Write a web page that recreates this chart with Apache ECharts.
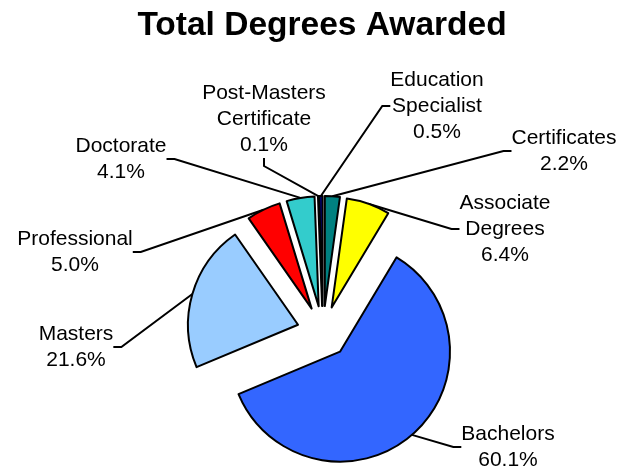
<!DOCTYPE html>
<html>
<head>
<meta charset="utf-8">
<script src="https://cdn.jsdelivr.net/npm/echarts@6/dist/echarts.min.js"></script>
<style>
  html, body { margin: 0; padding: 0; background: #fff; }
  #chart { width: 623px; height: 472px; }
</style>
</head>
<body>
<div id="chart"></div>
<script>
// slice order, clockwise from 12 o'clock
var categories = ["Certificates", "Associate\nDegrees", "Bachelors", "Masters",
  "Professional", "Doctorate", "Post-Masters\nCertificate", "Education\nSpecialist"];
var shares = [2.2, 6.4, 60.1, 21.6, 5.0, 4.1, 0.1, 0.5];
var colors = ["#008080", "#ffff00", "#3366ff", "#99ccff",
  "#ff0000", "#33cccc", "#ffffff", "#000080"];
// where each label block sits (centre of text)
var labelPos = [[564, 151], [505, 229], [508, 447], [76, 347],
  [75, 252], [121, 159], [264, 119], [437, 106]];

var pieCenter = [323, 332];
var pieRadius = 110;
var explode = 26;

var chart = echarts.init(document.getElementById("chart"), null, { renderer: "canvas" });

var textFont = {
  fontFamily: "Liberation Sans, Arial",
  fontSize: 21,
  lineHeight: 26,
  color: "#000"
};

chart.setOption({
  animation: false,
  title: {
    text: "Total Degrees Awarded",
    left: 317,
    textAlign: "center",
    top: 4,
    textStyle: {
      fontFamily: "Liberation Sans, Arial",
      fontSize: 33.5,
      fontWeight: "bold",
      color: "#000"
    }
  },
  series: [
    // the exploded slices
    {
      type: "pie",
      center: pieCenter,
      radius: pieRadius,
      startAngle: 90,
      clockwise: true,
      selectedMode: "multiple",
      selectedOffset: explode,
      silent: true,
      itemStyle: { borderColor: "#000", borderWidth: 2 },
      select: { itemStyle: { borderColor: "#000", borderWidth: 2 } },
      emphasis: { disabled: true },
      label: { show: false },
      labelLine: { show: false },
      data: categories.map(function (name, i) {
        return { name: name, value: shares[i], selected: true, itemStyle: { color: colors[i] } };
      })
    },
    // invisible ring reaching the exploded outer edge, only carries the labels
    {
      type: "pie",
      center: pieCenter,
      radius: pieRadius + explode,
      startAngle: 90,
      clockwise: true,
      silent: true,
      avoidLabelOverlap: false,
      itemStyle: { color: "transparent", borderWidth: 0 },
      emphasis: { disabled: true },
      label: Object.assign({
        align: "center",
        formatter: function (p) {
          return p.name + "\n" + shares[p.dataIndex].toFixed(1) + "%";
        }
      }, textFont),
      labelLine: {
        show: true,
        length: 10,
        length2: 8,
        lineStyle: { color: "#000", width: 2 }
      },
      labelLayout: function (p) {
        var pos = labelPos[p.dataIndex];
        return { x: pos[0], y: pos[1], align: "center", verticalAlign: "middle" };
      },
      data: categories.map(function (name, i) {
        return { name: name, value: shares[i] };
      })
    }
  ]
});
</script>
</body>
</html>
